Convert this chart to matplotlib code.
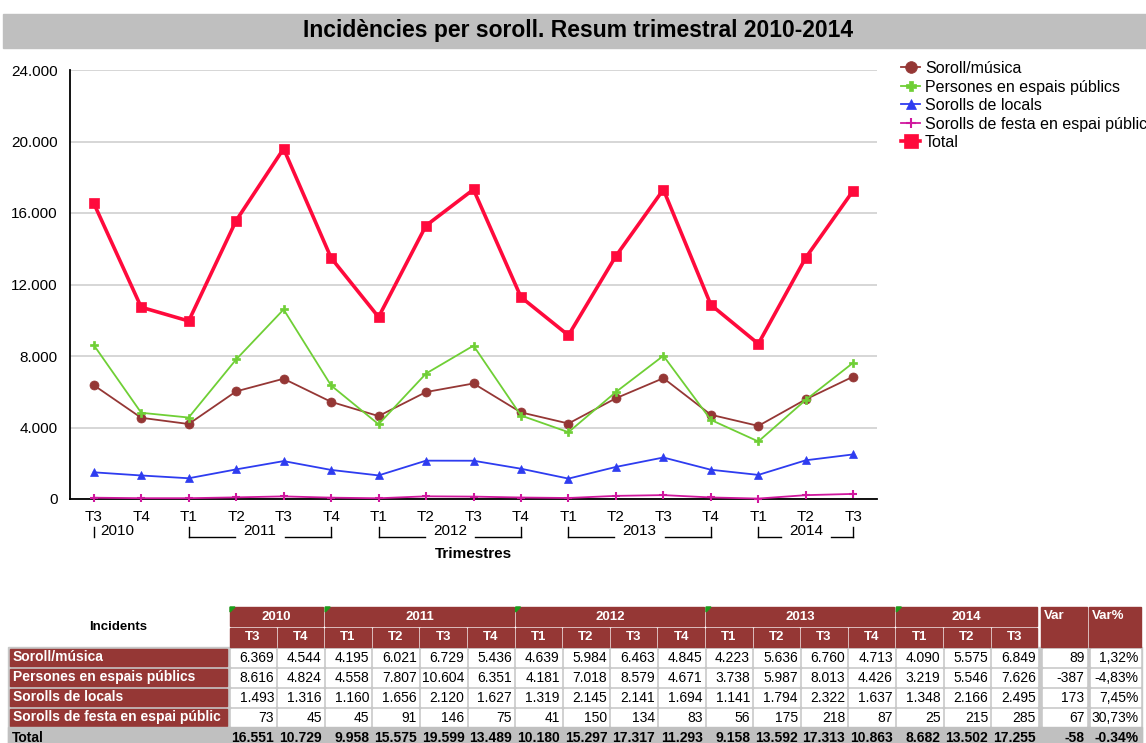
import matplotlib.pyplot as plt
from matplotlib.patches import Rectangle, Polygon
from matplotlib.lines import Line2D
from matplotlib.ticker import FuncFormatter, MultipleLocator
import matplotlib.transforms as mtransforms

plt.rcParams['font.family'] = ['Liberation Sans', 'DejaVu Sans']

# dades
quarters = ['T3', 'T4', 'T1', 'T2', 'T3', 'T4', 'T1', 'T2', 'T3', 'T4',
            'T1', 'T2', 'T3', 'T4', 'T1', 'T2', 'T3']
years = ['2010', '2011', '2012', '2013', '2014']
year_counts = [2, 4, 4, 4, 3]

names = ['Soroll/música', 'Persones en espais públics', 'Sorolls de locals',
         'Sorolls de festa en espai públic', 'Total']
soroll = [6369, 4544, 4195, 6021, 6729, 5436, 4639, 5984, 6463, 4845,
          4223, 5636, 6760, 4713, 4090, 5575, 6849]
persones = [8616, 4824, 4558, 7807, 10604, 6351, 4181, 7018, 8579, 4671,
            3738, 5987, 8013, 4426, 3219, 5546, 7626]
locals_ = [1493, 1316, 1160, 1656, 2120, 1627, 1319, 2145, 2141, 1694,
           1141, 1794, 2322, 1637, 1348, 2166, 2495]
festa = [73, 45, 45, 91, 146, 75, 41, 150, 134, 83,
         56, 175, 218, 87, 25, 215, 285]
total = [16551, 10729, 9958, 15575, 19599, 13489, 10180, 15297, 17317, 11293,
         9158, 13592, 17313, 10863, 8682, 13502, 17255]
var_abs = [89, -387, 173, 67, -58]
var_pct = ['1,32%', '-4,83%', '7,45%', '30,73%', '-0.34%']

W, H = 1146, 743
fig = plt.figure(figsize=(W / 100, H / 100), dpi=100)

# capa de fons en pixels (titol + taula)
tb = fig.add_axes([0, 0, 1, 1])
tb.set_xlim(0, W)
tb.set_ylim(H, 0)
tb.axis('off')

tb.add_patch(Rectangle((3, 14), W - 3, 34, color='#bfbfbf'))
tb.text(578, 31, 'Incidències per soroll. Resum trimestral 2010-2014',
        ha='center', va='center', fontsize=16.5, weight='bold')

# grafic
ax = fig.add_axes([70 / W, 1 - 499 / H, 807 / W, 429 / H])
x = list(range(len(quarters)))
styles = [
    (soroll, '#953735', 'o', 6.5, 1.3),
    (persones, '#6fcf35', 'P', 6, 1.3),
    (locals_, '#2e3cf0', '^', 6, 1.3),
    (festa, '#d0189e', '+', 6, 1.3),
    (total, '#ff0a3c', 's', 7.5, 2.6),
]
for (vals, col, mk, ms, lw), name in zip(styles, names):
    ax.plot(x, vals, color=col, marker=mk, markersize=ms, lw=lw,
            markeredgewidth=1.5 if mk == '+' else 0.5, markeredgecolor=col,
            label=name, clip_on=False, zorder=3)

ax.set_xlim(-0.5, len(quarters) - 0.5)
ax.set_ylim(0, 24000)
ax.yaxis.set_major_locator(MultipleLocator(4000))
ax.yaxis.set_major_formatter(FuncFormatter(lambda v, p: f"{int(v):,}".replace(',', '.')))
ax.grid(axis='y', color='#d0d0d0', lw=1.2)
ax.set_axisbelow(True)
for s in ['top', 'right']:
    ax.spines[s].set_visible(False)
for s in ['left', 'bottom']:
    ax.spines[s].set_linewidth(1.3)
ax.set_xticks(x)
ax.set_xticklabels(quarters)
ax.tick_params(axis='x', length=0, pad=8, labelsize=11)
ax.tick_params(axis='y', length=0, pad=9, labelsize=11)

# etiquetes d'any amb claudators
tr = mtransforms.blended_transform_factory(ax.transData, ax.transAxes)
start = 0
half = 0.53
for yr, cnt in zip(years, year_counts):
    a, b = start, start + cnt - 1
    c = (a + b) / 2
    ax.text(c, -0.075, yr, transform=tr, ha='center', va='center', fontsize=11)
    kw = dict(transform=tr, color='black', lw=1, clip_on=False)
    ax.add_line(Line2D([a, a], [-0.066, -0.089], **kw))
    if c - half > a:
        ax.add_line(Line2D([a, c - half], [-0.089, -0.089], **kw))
        ax.add_line(Line2D([c + half, b], [-0.089, -0.089], **kw))
    if b - a > 1:
        ax.add_line(Line2D([b, b], [-0.066, -0.089], **kw))
    start += cnt
ax.text(0.5, -0.128, 'Trimestres', transform=ax.transAxes, ha='center',
        va='center', fontsize=11, weight='bold')

fig.legend(loc='upper left', bbox_to_anchor=(901 / W, 1 - 61 / H), frameon=False,
           fontsize=11.5, handlelength=1.2, handletextpad=0.3, labelspacing=0.22,
           borderaxespad=0, borderpad=0, markerscale=1.3)

# taula
dark = '#953735'
gray = '#c8c8c8'
pitch = 47.6
def col_x(i):
    return 229 + i * pitch

def fmt(v):
    return f"{v:,}".replace(',', '.')

tb.add_patch(Rectangle((8, 647), 1142 - 8, 100, color=gray))
tb.text(118, 627, 'Incidents', ha='center', va='center', fontsize=9.5, weight='bold')
start = 0
for yr, cnt in zip(years, year_counts):
    x0, x1 = col_x(start), col_x(start + cnt)
    tb.add_patch(Rectangle((x0 + 1, 607), x1 - x0 - 2, 19, color=dark))
    tb.add_patch(Polygon([(x0 + 1, 607), (x0 + 6, 607), (x0 + 1, 612)], color='#1a9e1a'))
    tb.text((x0 + x1) / 2, 616.5, yr, ha='center', va='center', fontsize=9.5,
            weight='bold', color='white')
    start += cnt
for i, q in enumerate(quarters):
    x0 = col_x(i)
    tb.add_patch(Rectangle((x0 + 1, 628), pitch - 2, 18.5, color=dark))
    tb.text(x0 + pitch / 2, 637.5, q, ha='center', va='center', fontsize=9.5,
            weight='bold', color='white')
for (x0, x1), lab in zip([(1041, 1087), (1089, 1141)], ['Var', 'Var%']):
    tb.add_patch(Rectangle((x0, 607), x1 - x0, 39.5, color=dark))
    tb.text(x0 + 3, 616, lab, ha='left', va='center', fontsize=9.5,
            weight='bold', color='white')

rows = [soroll, persones, locals_, festa]
for r, (name, vals) in enumerate(zip(names[:4], rows)):
    y0 = 647 + r * 20
    tb.add_patch(Rectangle((10, y0 + 1.5), 217, 17, color=dark))
    tb.text(13, y0 + 10, name, ha='left', va='center', fontsize=10,
            weight='bold', color='white')
    for i, v in enumerate(vals):
        x0 = col_x(i)
        tb.add_patch(Rectangle((x0 + 1.5, y0 + 1.5), pitch - 3, 17, color='white'))
        tb.text(x0 + pitch - 2.5, y0 + 10.5, fmt(v), ha='right', va='center', fontsize=10)
    for (x0, x1), txt in zip([(1041, 1087), (1089, 1141)], [str(var_abs[r]), var_pct[r]]):
        tb.add_patch(Rectangle((x0 + 1.5, y0 + 1.5), x1 - x0 - 3, 17, color='white'))
        tb.text(x1 - 2.5, y0 + 10.5, txt, ha='right', va='center', fontsize=10)

y0 = 727
tb.add_patch(Rectangle((8, y0), 1142 - 8, 20, color='#c0c0c0'))
tb.text(12, y0 + 10.5, 'Total', ha='left', va='center', fontsize=10, weight='bold')
for i, v in enumerate(total):
    tb.text(col_x(i) + pitch - 2.5, y0 + 10.5, fmt(v), ha='right', va='center',
            fontsize=10, weight='bold')
for (x0, x1), txt in zip([(1041, 1087), (1089, 1141)], [str(var_abs[4]), var_pct[4]]):
    tb.text(x1 - 2.5, y0 + 10.5, txt, ha='right', va='center', fontsize=10, weight='bold')

fig.savefig('out.png', dpi=100)
